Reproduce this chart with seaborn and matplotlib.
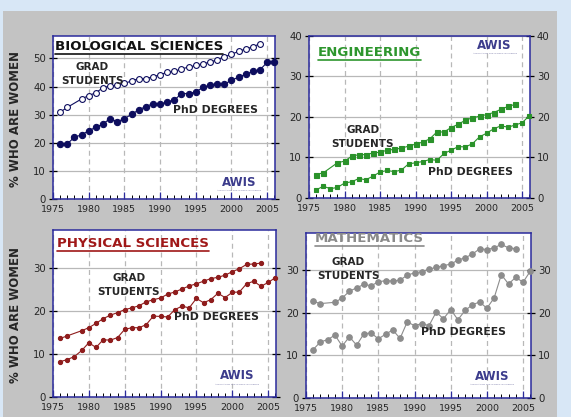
import matplotlib
matplotlib.use("Agg")
import matplotlib.pyplot as plt
import matplotlib.patches as patches
from matplotlib.lines import Line2D
from matplotlib.ticker import MultipleLocator
import seaborn as sns

sns.set_style("ticks")
plt.rcParams['font.family'] = ['DejaVu Sans']

# years: grad student series has no 1978 value
phd_years = list(range(1976, 2007))
grad_years = [1976, 1977] + list(range(1979, 2005))

bio_grad = [30.9, 32.6, 35.6, 36.8, 37.8, 39.6, 40.2, 40.5, 41.1, 42.0, 42.8, 42.8, 43.5, 44.2,
            45.1, 45.4, 46.3, 46.9, 47.5, 48.2, 48.6, 49.6, 50.6, 51.5, 52.5, 53.4, 54.1, 55.3]
bio_phd = [19.5, 19.6, 22.0, 22.8, 24.3, 25.5, 26.7, 28.6, 27.5, 28.6, 30.1, 31.7, 32.9, 33.9, 33.7, 34.6,
           35.2, 37.5, 37.5, 38.1, 39.7, 40.5, 41.0, 40.8, 42.3, 43.3, 44.4, 45.4, 46.0, 48.6, 48.9]

eng_grad = [5.8, 6.2, 8.7, 9.1, 10.3, 10.7, 10.7, 11.1, 11.3, 11.8, 12.0, 12.3, 12.8, 13.3,
            13.8, 14.6, 16.3, 16.3, 17.4, 18.2, 19.2, 19.8, 20.2, 20.6, 21.1, 21.9, 22.6, 23.1]
eng_phd = [2.0, 2.9, 2.3, 2.6, 3.7, 4.0, 4.8, 4.5, 5.4, 6.4, 6.8, 6.5, 6.9, 8.4, 8.7, 9.0,
           9.5, 9.3, 11.0, 11.8, 12.7, 12.6, 13.4, 15.1, 16.0, 17.1, 17.8, 17.5, 18.0, 18.6, 20.3]

phys_grad = [13.6, 14.2, 15.4, 16.1, 17.1, 18.2, 19.0, 19.6, 20.3, 20.7, 21.2, 22.1, 22.6, 23.0,
             23.9, 24.4, 25.1, 25.8, 26.3, 26.9, 27.5, 27.8, 28.3, 29.1, 29.8, 30.8, 30.9, 31.1]
phys_phd = [8.2, 8.7, 9.4, 10.8, 12.6, 11.5, 13.3, 13.2, 13.8, 15.7, 16.1, 16.1, 16.8, 18.8, 18.7, 18.6,
            20.3, 21.1, 20.7, 22.9, 21.9, 22.6, 24.1, 23.1, 24.3, 24.4, 26.3, 26.9, 25.7, 26.6, 27.7]

math_grad = [22.7, 22.2, 22.5, 23.5, 25.1, 25.9, 26.7, 26.4, 27.3, 27.6, 27.5, 27.7, 28.9, 29.4,
             29.7, 30.3, 30.7, 31.1, 31.5, 32.4, 33.0, 33.8, 35.1, 34.9, 35.3, 36.1, 35.3, 35.1]
math_phd = [11.4, 13.2, 13.7, 14.8, 12.2, 14.4, 12.4, 15.1, 15.3, 13.9, 15.0, 16.0, 14.0, 17.9, 17.0, 17.5,
            17.0, 20.2, 18.6, 20.8, 18.4, 20.6, 21.9, 22.6, 21.1, 23.5, 29.0, 26.8, 28.4, 27.2, 29.8]

navy = '#2b2b9c'
grid_c = '#b8b8b8'

panels = [
    dict(rect=[0.0928, 0.5228, 0.3888, 0.3909], title='BIOLOGICAL SCIENCES', tcolor='#111111',
         tpos=(0.01, 0.933), color='#0d0d5e', grad=bio_grad, phd=bio_phd,
         gm=dict(marker='o', markersize=4.2, markerfacecolor='white'), pm=dict(marker='o', markersize=4.5),
         ylim=58, yt=[0, 10, 20, 30, 40, 50], lr=False, ylab=True,
         gs=(0.176, 0.767), pd=(0.73, 0.546), awis=(0.84, 0.1)),
    dict(rect=[0.5412, 0.5252, 0.387, 0.3885], title='ENGINEERING', tcolor='#2e962e',
         tpos=(0.04, 0.895), color='#2a922a', grad=eng_grad, phd=eng_phd,
         gm=dict(marker='s', markersize=3.6), pm=dict(marker='s', markersize=3),
         ylim=40, yt=[0, 10, 20, 30, 40], lr=True, ylab=False,
         gs=(0.244, 0.377), pd=(0.729, 0.16), awis=(0.84, 0.94)),
    dict(rect=[0.0928, 0.048, 0.3905, 0.4005], title='PHYSICAL SCIENCES', tcolor='#a01818',
         tpos=(0.018, 0.922), color='#8f1d1d', grad=phys_grad, phd=phys_phd,
         gm=dict(marker='o', markersize=3), pm=dict(marker='o', markersize=3),
         ylim=38.8, yt=[0, 10, 20, 30], lr=False, ylab=True,
         gs=(0.34, 0.668), pd=(0.731, 0.479), awis=(0.825, 0.126)),
    dict(rect=[0.5359, 0.0456, 0.394, 0.3957], title='MATHEMATICS', tcolor='#8a8a8a',
         tpos=(0.04, 0.964), color='#8c8c8c', grad=math_grad, phd=math_phd,
         gm=dict(marker='o', markersize=4), pm=dict(marker='o', markersize=4),
         ylim=38.8, yt=[0, 10, 20, 30], lr=True, ylab=False,
         gs=(0.187, 0.78), pd=(0.70, 0.40), awis=(0.827, 0.13)),
]

fig = plt.figure(figsize=(5.71, 4.17), dpi=100, facecolor='#d8e7f6')
fig.patches.append(patches.Rectangle((3 / 571, 0), 554 / 571, 1 - 11 / 417, transform=fig.transFigure,
                                     facecolor='#c3c3c3', edgecolor='none', zorder=-10))

titles = []
for p in panels:
    ax = fig.add_axes(p['rect'])
    ax.set_facecolor('white')
    c = p['color']
    sns.lineplot(x=grad_years, y=p['grad'], ax=ax, color=c, lw=0.8, markeredgecolor=c,
                 markeredgewidth=0.8, clip_on=False, zorder=3, **p['gm'])
    sns.lineplot(x=phd_years, y=p['phd'], ax=ax, color=c, lw=0.8, markeredgecolor=c,
                 markeredgewidth=0.8, clip_on=False, zorder=3, **p['pm'])
    ax.set_xlim(1975, 2006.1)
    ax.set_ylim(0, p['ylim'])
    ax.set_xticks(range(1975, 2006, 5))
    ax.xaxis.set_minor_locator(MultipleLocator(1))
    ax.set_yticks(p['yt'])
    ax.grid(axis='x', which='major', color=grid_c, ls=(0, (4, 3)), lw=0.9)
    ax.grid(axis='y', which='major', color=grid_c, ls='-', lw=0.9)
    ax.set_axisbelow(True)
    for s in ax.spines.values():
        s.set_color(navy)
        s.set_linewidth(1.1)
    ax.tick_params(axis='x', which='major', direction='in', length=5, width=0.9, color=navy,
                   labelsize=6.8, pad=4)
    ax.tick_params(axis='x', which='minor', direction='in', length=3, width=0.7, color='black')
    ax.yaxis.set_ticks_position('both')
    ax.tick_params(axis='y', direction='inout', length=6, width=0.9, color='black', labelsize=7.3,
                   labelleft=True, labelright=p['lr'], pad=2)
    ax.set_xlabel('')
    if p['ylab']:
        ax.set_ylabel('% WHO ARE WOMEN', fontsize=8.5, fontweight='bold')
        ax.yaxis.set_label_coords(-0.14, 0.49)
    else:
        ax.set_ylabel('')
    t = ax.text(p['tpos'][0], p['tpos'][1], p['title'], transform=ax.transAxes, color=p['tcolor'],
                fontsize=9.6, fontweight='bold', ha='left', va='center')
    titles.append((t, p['tcolor']))
    ax.text(p['gs'][0], p['gs'][1], 'GRAD\nSTUDENTS', transform=ax.transAxes, fontsize=7.5,
            fontweight='bold', ha='center', va='center', linespacing=1.5)
    ax.text(p['pd'][0], p['pd'][1], 'PhD DEGREES', transform=ax.transAxes, fontsize=7.8,
            fontweight='bold', ha='center', va='center')
    ax.text(p['awis'][0], p['awis'][1], 'AWIS', transform=ax.transAxes, fontsize=8.5,
            fontweight='bold', color='#3c3c8c', ha='center', va='center')
    ax.text(p['awis'][0], p['awis'][1] - 0.05, 'ASSOCIATION FOR WOMEN IN SCIENCE',
            transform=ax.transAxes, fontsize=1.6, color='#7a7aa8', ha='center', va='center')

# underline the panel titles
fig.canvas.draw()
r = fig.canvas.get_renderer()
inv = fig.transFigure.inverted()
for t, col in titles:
    bb = t.get_window_extent(r)
    (x0, y0), (x1, _) = inv.transform([(bb.x0, bb.y0 - 1), (bb.x1, bb.y0 - 1)])
    fig.lines.append(Line2D([x0, x1], [y0, y0], transform=fig.transFigure, color=col, lw=1.2))

fig.savefig('out.png', dpi=100, facecolor=fig.get_facecolor())
